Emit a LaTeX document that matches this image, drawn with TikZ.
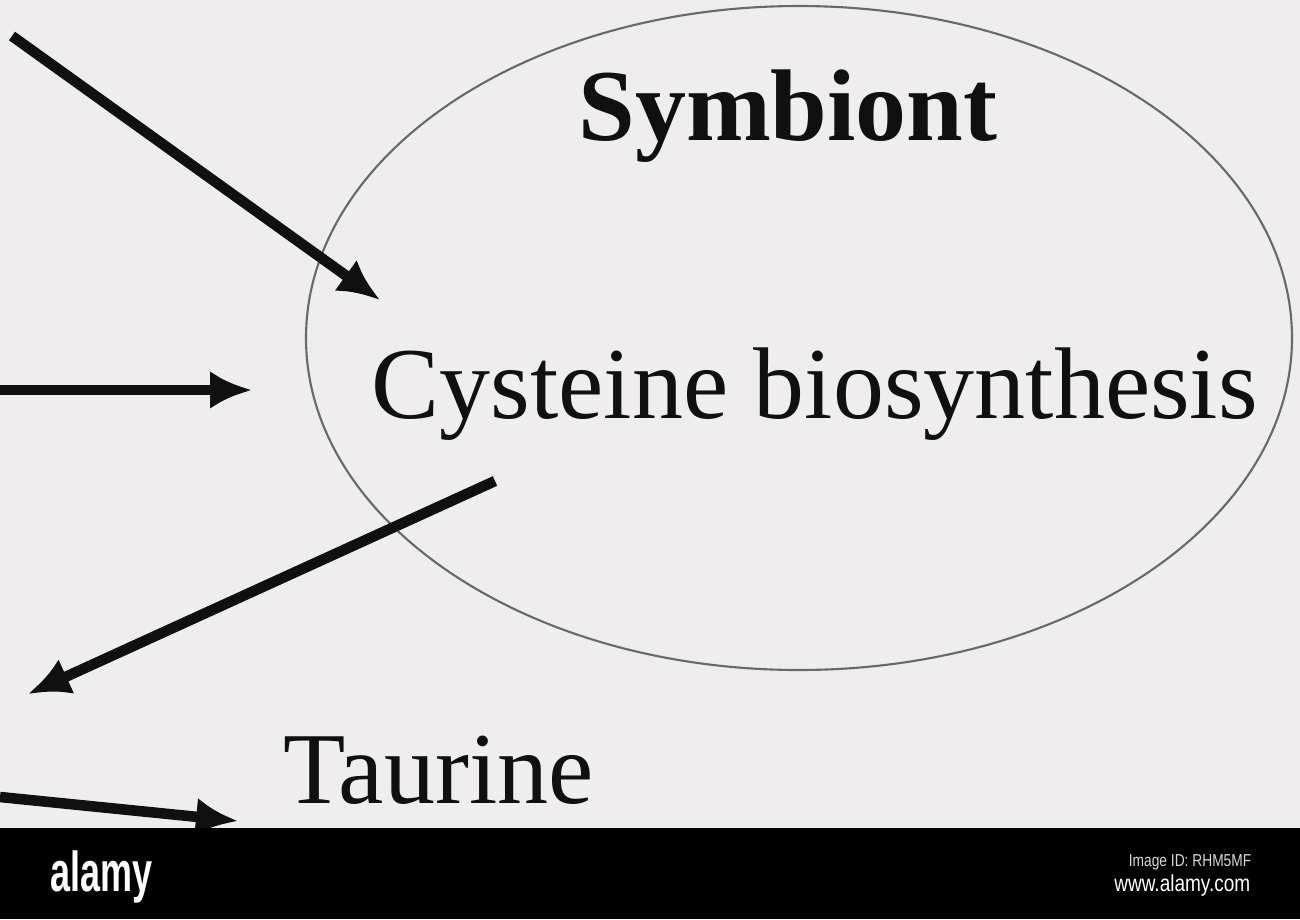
\documentclass[tikz,border=0pt]{standalone}
\usepackage{fontspec}
\setmainfont{Liberation Serif}
\newfontfamily\logofont{Liberation Sans}
\usepackage{tikz}
\usetikzlibrary{shapes.geometric,arrows.meta,calc}
\definecolor{bggray}{RGB}{239,237,237}
\definecolor{rimgray}{RGB}{105,105,105}
\definecolor{inkblack}{RGB}{16,16,16}
\tikzset{
  flow/.style={line width=3pt, draw=inkblack, -{Latex[length=4.2mm,width=3.8mm]}},
  label/.style={inner sep=0pt, text=inkblack, font=\fontsize{29}{34}\selectfont},
}

\begin{document}
\begin{tikzpicture}[x=0.1mm, y=-0.1mm]
    \fill[bggray] (0,0) rectangle (1300,919);
    \useasboundingbox (0,0) rectangle (1300,919);
    \coordinate (a1) at (12, 36);
    \coordinate (a2) at (380, 300);
    \coordinate (b1) at (0, 390);
    \coordinate (b2) at (252, 390);
    \coordinate (c1) at (495, 481);
    \coordinate (c2) at (28, 694);
    \coordinate (d1) at (0, 797);
    \coordinate (d2) at (238, 821);
    \node[draw=rimgray, line width=0.6pt, ellipse, minimum width=98.6mm, minimum height=66.4mm, inner sep=0pt] (cell) at (799, 338) {};
    \node[label, anchor=base, font=\fontsize{29}{34}\selectfont\bfseries] (sym) at (788, 140) {Symbiont};
    \node[label, anchor=base west] (cys) at (371, 418) {Cysteine biosynthesis};
    \node[label, anchor=base west] (tau) at (283, 803) {Taurine};
    \draw[flow] (a1) -- (a2);
    \draw[flow] (b1) -- (b2);
    \draw[flow] (c1) -- (c2);
    \draw[flow] (d1) -- (d2);
    \fill[black] (0,828) rectangle (1300,919);
    \node[inner sep=0pt, anchor=base west, text=white, font=\logofont\bfseries\fontsize{16}{16}\selectfont] (logo) at (50, 891) {\scalebox{0.64}[1]{alamy}};
    \node[inner sep=0pt, anchor=base east, text=white!85!black, font=\logofont\fontsize{4.9}{5}\selectfont] (imgid) at (1252, 866) {\scalebox{0.8}[1]{Image ID: RHM5MF}};
    \node[inner sep=0pt, anchor=base east, text=white, font=\logofont\fontsize{6.6}{7}\selectfont] (site) at (1251, 891) {\scalebox{0.82}[1]{www.alamy.com}};
  \end{tikzpicture}
\end{document}
